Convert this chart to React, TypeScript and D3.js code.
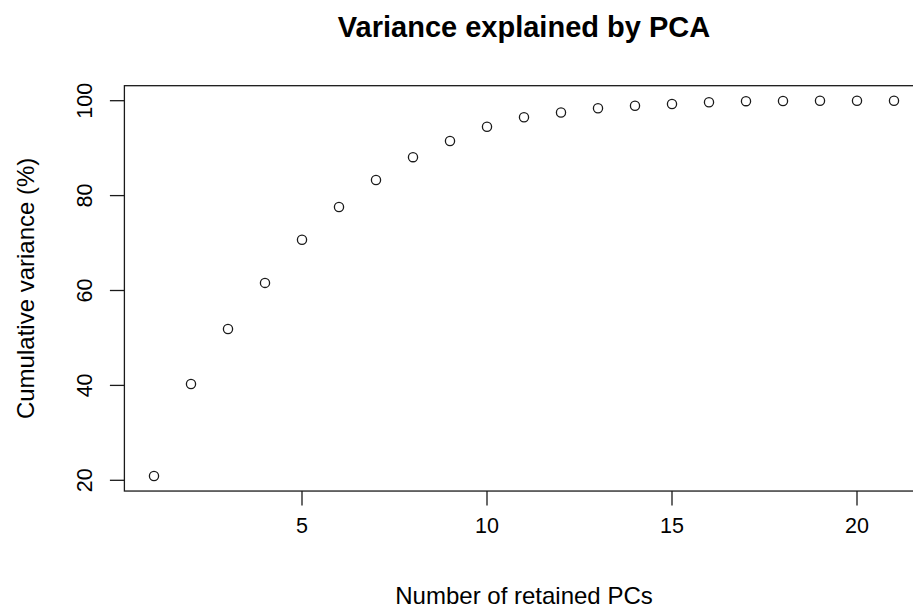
import React, { useRef, useEffect } from "react";
import * as d3 from "d3";

// cumulative variance explained, one value per retained PC
const components = [1, 2, 3, 4, 5, 6, 7, 8, 9, 10, 11, 12, 13, 14, 15, 16, 17, 18, 19, 20, 21];
const cumVariance = [
    20.9, 40.3, 51.9, 61.6, 70.7, 77.6, 83.3, 88.1, 91.5, 94.5, 96.5,
    97.5, 98.4, 98.95, 99.3, 99.66, 99.9, 99.95, 99.98, 99.99, 100,
];
const xTicks = [5, 10, 15, 20];
const yTicks = [20, 40, 60, 80, 100];

const width = 913;
const height = 608;
const font = "'Liberation Sans', Arial, sans-serif";

const App: React.FC = () => {
    const svgRef = useRef<SVGSVGElement | null>(null);

    useEffect(() => {
        if (!svgRef.current) return;
        const svg = d3.select(svgRef.current);
        svg.selectAll("*").remove();

        // R-style 4% padding on both axes
        const xMin = d3.min(components)!;
        const xMax = d3.max(components)!;
        const xPad = (xMax - xMin) * 0.04;
        const yMin = d3.min(cumVariance)!;
        const yMax = d3.max(cumVariance)!;
        const yPad = (yMax - yMin) * 0.04;

        // pixel positions of two known ticks
        const x = d3.scaleLinear().domain([10, 20]).range([487, 857]);
        const y = d3.scaleLinear().domain([20, 100]).range([480.3, 100.7]);

        const left = x(xMin - xPad);
        const right = x(xMax + xPad);
        const top = y(yMax + yPad);
        const bottom = y(yMin - yPad);

        const ink = "#1a1a1a";

        // plot box
        svg.append("rect")
            .attr("x", left)
            .attr("y", top)
            .attr("width", right - left)
            .attr("height", bottom - top)
            .attr("fill", "none")
            .attr("stroke", ink)
            .attr("stroke-width", 1.3);

        // x axis
        const gx = svg.append("g");
        gx.selectAll("line")
            .data(xTicks)
            .enter()
            .append("line")
            .attr("x1", (d) => x(d))
            .attr("x2", (d) => x(d))
            .attr("y1", bottom)
            .attr("y2", bottom + 14.5)
            .attr("stroke", ink)
            .attr("stroke-width", 1.3);
        gx.selectAll("text")
            .data(xTicks)
            .enter()
            .append("text")
            .attr("x", (d) => x(d))
            .attr("y", 533)
            .attr("text-anchor", "middle")
            .attr("font-family", font)
            .attr("font-size", 21.5)
            .text((d) => d);

        // y axis
        const gy = svg.append("g");
        gy.selectAll("line")
            .data(yTicks)
            .enter()
            .append("line")
            .attr("x1", left - 14.5)
            .attr("x2", left)
            .attr("y1", (d) => y(d))
            .attr("y2", (d) => y(d))
            .attr("stroke", ink)
            .attr("stroke-width", 1.3);
        gy.selectAll("text")
            .data(yTicks)
            .enter()
            .append("text")
            .attr("transform", (d) => `translate(92,${y(d)}) rotate(-90)`)
            .attr("text-anchor", "middle")
            .attr("font-family", font)
            .attr("font-size", 21.5)
            .text((d) => d);

        // points
        svg.append("g")
            .selectAll("circle")
            .data(components)
            .enter()
            .append("circle")
            .attr("cx", (d) => x(d))
            .attr("cy", (_, i) => y(cumVariance[i]))
            .attr("r", 4.6)
            .attr("fill", "none")
            .attr("stroke", ink)
            .attr("stroke-width", 1.3);

        const mid = (left + right) / 2;

        // titles
        svg.append("text")
            .attr("x", mid)
            .attr("y", 37)
            .attr("text-anchor", "middle")
            .attr("font-family", font)
            .attr("font-weight", "bold")
            .attr("font-size", 29)
            .text("Variance explained by PCA");

        svg.append("text")
            .attr("x", mid)
            .attr("y", 603.5)
            .attr("text-anchor", "middle")
            .attr("font-family", font)
            .attr("font-size", 24)
            .text("Number of retained PCs");

        svg.append("text")
            .attr("transform", `translate(33.5,${(top + bottom) / 2}) rotate(-90)`)
            .attr("text-anchor", "middle")
            .attr("font-family", font)
            .attr("font-size", 24)
            .text("Cumulative variance (%)");
    }, []);

    return (
        <svg
            ref={svgRef}
            width={width}
            height={height}
            style={{ position: "absolute", left: 0, top: 0, background: "#fff" }}
        />
    );
};

export default App;
